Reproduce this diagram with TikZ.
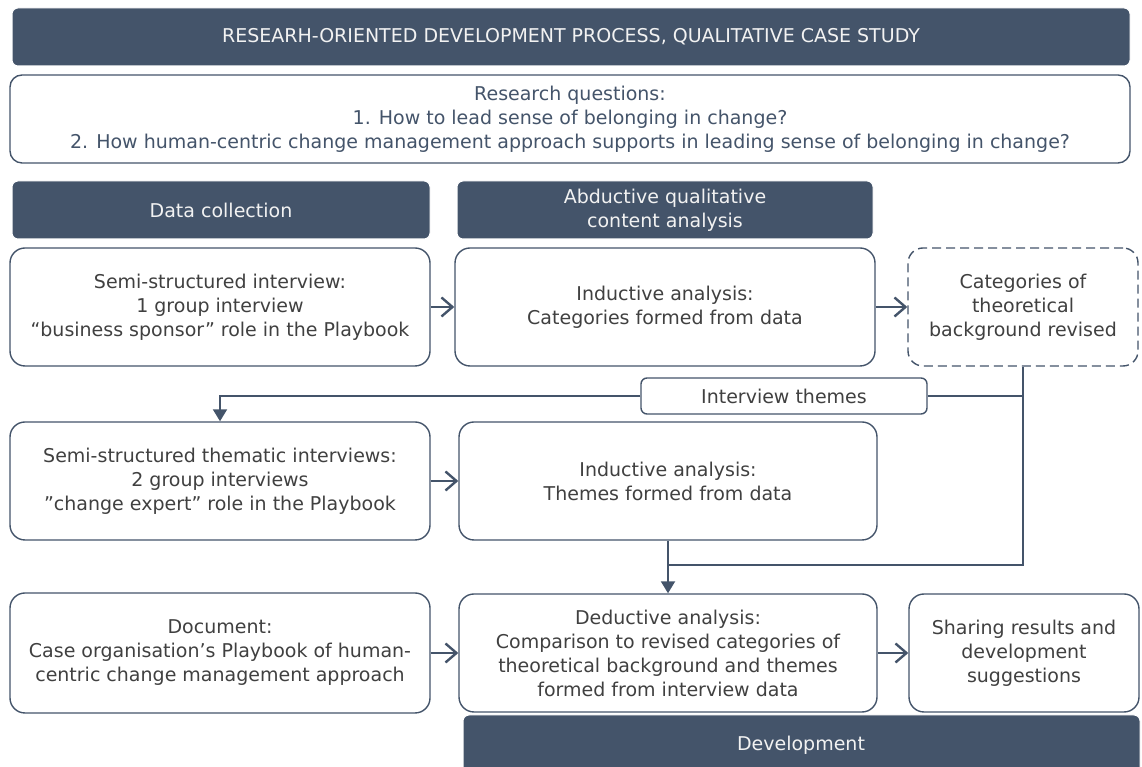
\documentclass[tikz,border=0pt]{standalone}
\usepackage{fontspec}
\setmainfont{DejaVu Sans}
\usetikzlibrary{positioning,arrows.meta,calc}

\definecolor{slate}{HTML}{44546A}
\definecolor{bodytxt}{HTML}{404040}
\definecolor{headtxt}{HTML}{F2F2F2}

\tikzset{
    band/.style={draw=white, line width=1pt, fill=slate, text=headtxt, rounded corners=6pt,
        align=center, inner sep=0pt},
    stage/.style={draw=slate, line width=1.4pt, fill=white, text=bodytxt, rounded corners=15pt,
        align=center, inner sep=0pt, minimum height=118pt},
    link/.style={draw=slate, line width=2pt},
    open/.style={link, -{Straight Barb[length=11pt,width=19pt,line width=2.4pt]}},
    fall/.style={link, -{Triangle[length=12pt,width=14pt]}},
}

\begin{document}
\begin{tikzpicture}[x=1pt, y=1pt, font=\fontsize{19}{24}\selectfont]
\useasboundingbox (0,0) rectangle (1142,767);

% headings
\node[band, minimum width=1118pt, minimum height=58pt] (head) at (571,730)
    {RESEARH-ORIENTED DEVELOPMENT PROCESS, QUALITATIVE CASE STUDY};
\node[stage, minimum width=1120pt, minimum height=88pt, rounded corners=12pt, text=slate] (rq) at (570,648)
    {Research questions:\\
     1. How to lead sense of belonging in change?\\
     2. How human-centric change management approach supports in leading sense of belonging in change?};
\node[band, minimum width=418pt, minimum height=58pt] (collect) at (221,557) {Data collection};
\node[band, minimum width=416pt, minimum height=58pt] (abduct) at (665,557)
    {Abductive qualitative\\content analysis};

% first row
\node[stage, minimum width=420pt] (sponsor) at (220,460)
    {Semi-structured interview:\\1 group interview\\“business sponsor” role in the Playbook};
\node[stage, minimum width=420pt] (indcat) at (665,460)
    {Inductive analysis:\\Categories formed from data};
\node[stage, minimum width=230pt, dashed, dash pattern=on 9pt off 5pt] (revised) at (1023,460)
    {Categories of\\theoretical\\background revised};

\node[stage, minimum width=286pt, minimum height=36pt, rounded corners=6pt] (themes) at (784,371)
    {Interview themes};

% second row
\node[stage, minimum width=420pt] (expert) at (220,286)
    {Semi-structured thematic interviews:\\2 group interviews\\”change expert” role in the Playbook};
\node[stage, minimum width=418pt] (indthm) at (668,286)
    {Inductive analysis:\\Themes formed from data};

% third row
\node[stage, minimum width=420pt, minimum height=120pt] (playbook) at (220,114)
    {Document:\\Case organisation's Playbook of human-\\centric change management approach};
\node[stage, minimum width=418pt] (deduct) at (668,114)
    {Deductive analysis:\\Comparison to revised categories of\\theoretical background and themes\\formed from interview data};
\node[stage, minimum width=230pt] (share) at (1024,114)
    {Sharing results and\\development\\suggestions};

% development band runs off the lower edge
\begin{scope}
\clip (0,0) rectangle (1142,767);
\draw[band] (463,52) rectangle (1140,-12);
\end{scope}
\node[text=headtxt, inner sep=0pt] (devel) at (801,22) {Development};

% connectors
\draw[open] (sponsor) -- (indcat);
\draw[open] (indcat) -- (revised);
\draw[open] (expert) -- (indthm);
\draw[open] (playbook) -- (deduct);
\draw[open] (deduct) -- (share);

\coordinate (join) at (indthm.south |- 0,202);
\draw[link] (revised.south) |- (join);
\draw[link] (themes.east) -- (themes.east -| revised.south);
\draw[fall] (themes.west) -| (expert.north);
\draw[fall] (indthm.south) -- (deduct.north);
\end{tikzpicture}
\end{document}
